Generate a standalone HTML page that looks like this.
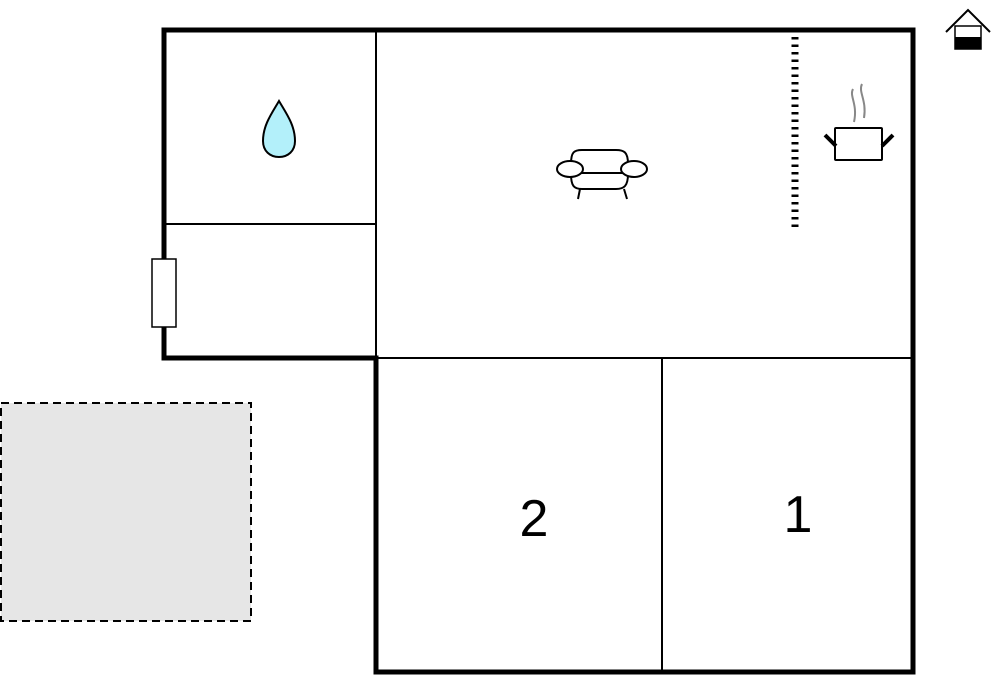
<!DOCTYPE html>
<html><head><style>body{margin:0;background:#fff}svg{display:block}</style></head><body>
<svg width="1000" height="676" viewBox="0 0 1000 676" xmlns="http://www.w3.org/2000/svg">
<rect x="1" y="403" width="250" height="218" fill="#e6e6e6" stroke="#000" stroke-width="2" stroke-dasharray="8,5"/>
<g stroke="#000" fill="none">
<line x1="376" y1="30" x2="376" y2="358" stroke-width="2"/>
<line x1="164" y1="224" x2="376" y2="224" stroke-width="2"/>
<line x1="376" y1="358" x2="913" y2="358" stroke-width="2"/>
<line x1="662" y1="358" x2="662" y2="672" stroke-width="2"/>
<path d="M164 358 V30 H913 V672 H376 V358 Z" stroke-width="5"/>
<line x1="795" y1="37" x2="795" y2="229" stroke-width="7" stroke-dasharray="2.5,5"/>
</g>
<rect x="152" y="259" width="24" height="68" fill="#fff" stroke="#000" stroke-width="1.5"/>
<path d="M279 101 C272 113 263 125 263 141 C263 151 270 157 279 157 C288 157 295 151 295 141 C295 125 286 113 279 101 Z" fill="#b3f0fa" stroke="#000" stroke-width="2"/>
<g stroke="#000" stroke-width="2" fill="#fff">
<path d="M571 164 C571 152 574 150 582 150 H616 C624 150 628 152 628 164"/>
<path d="M571 174 C571 186 574 189 582 189 H616 C624 189 628 186 628 174"/>
<line x1="571" y1="173" x2="628" y2="173"/>
<line x1="580" y1="189" x2="578" y2="199"/><line x1="624" y1="189" x2="627" y2="199"/>
<ellipse cx="570" cy="169" rx="13" ry="8"/>
<ellipse cx="634" cy="169" rx="13" ry="8"/>
<rect x="835" y="128" width="47" height="32" rx="1"/>
</g>
<g stroke="#000" stroke-width="4"><line x1="825" y1="135" x2="836" y2="146"/><line x1="893" y1="135" x2="882" y2="146"/></g>
<g stroke="#888" stroke-width="2" fill="none">
<path d="M853 89 C849 96 858 104 854 122"/><path d="M862 84 C858 92 867 100 864 118"/>
</g>
<path d="M946 32 L968 10 L990 32" stroke="#000" stroke-width="2" fill="none"/>
<rect x="955" y="26" width="26" height="23" fill="#fff" stroke="#000" stroke-width="1.5"/>
<rect x="955" y="37" width="26" height="12" fill="#000"/>
<text x="534" y="536" font-family="Liberation Sans, sans-serif" font-size="52" text-anchor="middle">2</text>
<text x="798" y="532" font-family="Liberation Sans, sans-serif" font-size="52" text-anchor="middle">1</text>
</svg>
</body></html>
